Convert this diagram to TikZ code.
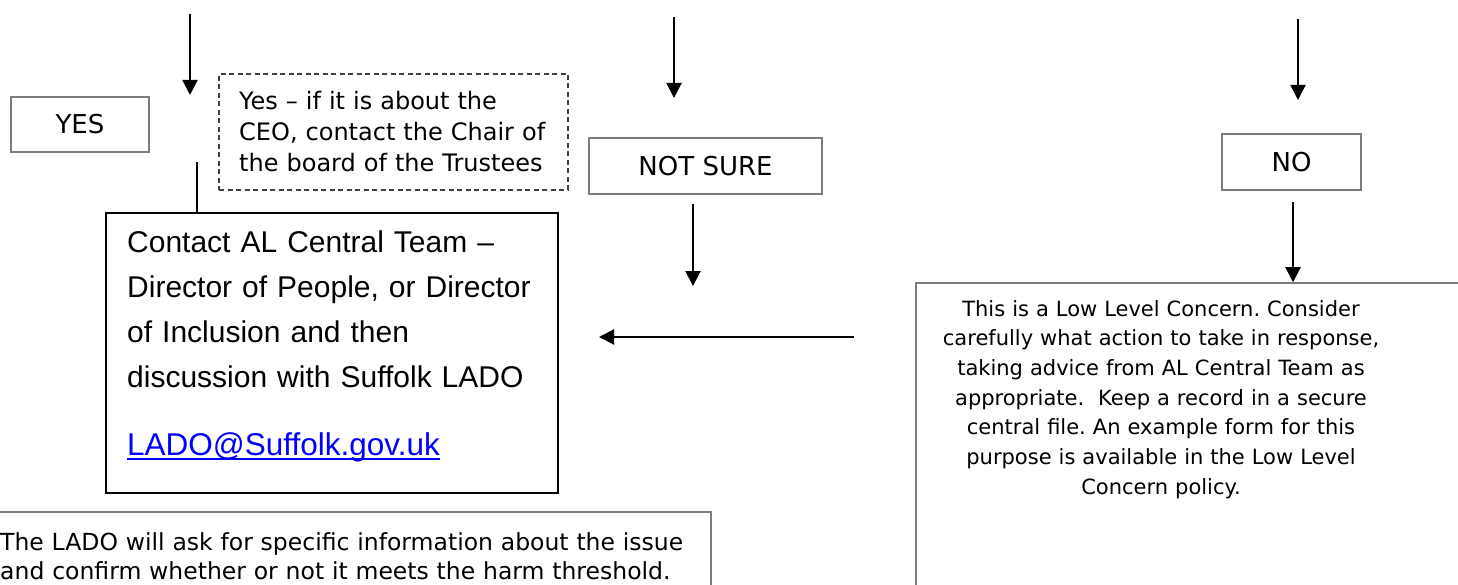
\documentclass[tikz,border=0pt]{standalone}
\usepackage{fontspec}
\usetikzlibrary{arrows.meta}
\newfontfamily\tahfont{DejaVu Sans}
\newfontfamily\aptfont{Liberation Sans}
\definecolor{linkblue}{RGB}{0,0,255}
\definecolor{boxgray}{RGB}{125,125,125}
\frenchspacing
\begin{document}
\begin{tikzpicture}[x=1pt,y=-1pt,
  arr/.style={line width=2pt, -{Triangle[width=15pt,length=15pt]}},
  optbox/.style={draw=boxgray, line width=1.5pt, inner sep=0pt, minimum height=56pt,
    font=\tahfont\fontsize{26}{31}\selectfont},
  dashbox/.style={draw=black!75, line width=1.5pt, dash pattern=on 5pt off 3.5pt, inner sep=0pt},
  mainbox/.style={draw=black, line width=2.5pt, inner sep=0pt},
  greybox/.style={draw=boxgray, line width=1.5pt, inner sep=0pt},
  blocktext/.style={inner sep=0pt, anchor=base west, align=left},
]
\useasboundingbox (0,0) rectangle (1458,585);

% option boxes
\node[optbox, minimum width=138pt, minimum height=55pt] (yes) at (80,124.5) {YES};
\node[optbox, minimum width=233pt] (notsure) at (705.5,166) {NOT SURE};
\node[optbox, minimum width=139pt] (no) at (1291.5,162) {NO};

% dashed CEO box
\node[dashbox, minimum width=349pt, minimum height=116pt] (ceo) at (393.5,132) {};
\node[blocktext, text width=330pt, font=\tahfont\fontsize{24}{31}\selectfont] (ceotext) at (239,110)
  {Yes – if it is about the\\CEO, contact the Chair of\\the board of the Trustees};

% contact box
\node[mainbox, minimum width=452pt, minimum height=280pt] (contact) at (332,353) {};
\node[blocktext, text width=425pt, font=\aptfont\fontsize{30}{44.7}\selectfont] (contacttext) at (127,253)
  {Contact AL Central Team –\\Director of People, or Director\\of Inclusion and then\\discussion with Suffolk LADO};
\node[inner sep=0pt, anchor=base west, text=linkblue, font=\aptfont\fontsize{31.5}{36}\selectfont] (link) at (127,455)
  {LADO@Suffolk.gov.uk};
\draw[linkblue, line width=2pt] ([yshift=-3.5pt]link.base west) -- ([yshift=-3.5pt]link.base east);

% low level concern box
\node[greybox, minimum width=560pt, minimum height=317pt] (low) at (1196,441.5) {};
\node[inner sep=0pt, anchor=base, text width=520pt, align=center, font=\tahfont\fontsize{21}{29.7}\selectfont] (lowtext) at (1161,316)
  {This is a Low Level Concern. Consider\\carefully what action to take in response,\\taking advice from AL Central Team as\\appropriate.\ \ Keep a record in a secure\\central file. An example form for this\\purpose is available in the Low Level\\Concern policy.};

% bottom LADO box
\node[greybox, minimum width=721pt, minimum height=88pt] (lado) at (350.5,556) {};
\node[blocktext, text width=700pt, font=\tahfont\fontsize{23.5}{29}\selectfont] (ladotext) at (0,550)
  {The LADO will ask for specific information about the issue\\and confirm whether or not it meets the harm threshold.};

% connectors
\coordinate (a1s) at (190,14);   \coordinate (a1e) at (190,95);
\coordinate (a2s) at (674,17);   \coordinate (a2e) at (674,98);
\coordinate (a4s) at (1298,19);  \coordinate (a4e) at (1298,100);
\coordinate (a3s) at (693,204);  \coordinate (a3e) at (693,286);
\coordinate (a5s) at (1293,202);
\coordinate (hs) at (854,337);   \coordinate (he) at (599,337);
\coordinate (l1s) at (197,162);

\draw[arr] (a1s) -- (a1e);
\draw[arr] (a2s) -- (a2e);
\draw[arr] (a4s) -- (a4e);
\draw[arr] (a3s) -- (a3e);
\draw[arr] (a5s) -- (a5s |- low.north);
\draw[arr] (hs) -- (he);
\draw[line width=2.5pt] (l1s) -- (l1s |- contact.north);
\end{tikzpicture}
\end{document}
